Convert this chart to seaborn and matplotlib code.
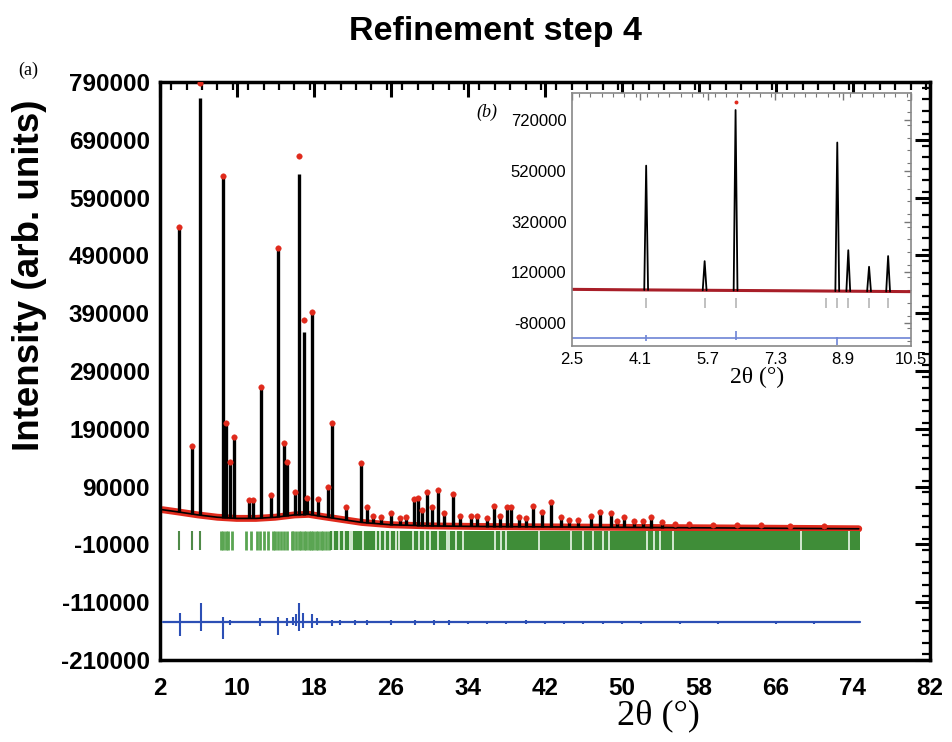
import numpy as np
import pandas as pd
import matplotlib
matplotlib.use("Agg")
import matplotlib.pyplot as plt
import seaborn as sns
from matplotlib.ticker import MultipleLocator, FixedLocator

# ---------------- data ----------------
# background of the observed pattern (main panel)
bg_x = [2.3, 4, 6, 8, 10, 12, 14, 16, 17.5, 19, 21, 23, 26, 30, 35, 45, 55, 65, 74.6]
bg_y = [50000, 46000, 41000, 37000, 35000, 35000, 37000, 41000, 42000, 38000,
        33000, 28000, 24000, 22000, 21000, 20000, 19000, 18000, 17000]

# Bragg peaks: position, calculated height, observed height
peak_pos = [4.05, 5.37, 6.19, 8.54, 8.87, 9.3, 9.74, 11.3, 11.7, 12.5, 13.6, 14.25,
            14.9, 15.2, 16.1, 16.47, 16.95, 17.3, 17.85, 18.5, 19.5, 19.9, 21.4,
            22.9, 23.5, 24.2, 25.0, 26.0, 27.0, 27.6, 28.4, 28.8, 29.2, 29.8, 30.3,
            30.9, 31.5, 32.5, 33.2, 34.3, 35.0, 36.0, 36.7, 37.3, 38.1, 38.5, 39.3,
            40.0, 40.8, 41.7, 42.6, 43.7, 44.5, 45.4, 46.8, 47.7, 48.9, 49.5, 50.2,
            51.3, 52.2, 53.0, 54.2, 55.5, 57.0, 59.5, 62.0, 64.5, 67.5, 71.0]
peak_calc = [537000, 156000, 762000, 628000, 199000, 132000, 176000, 66000, 66000,
             263000, 75000, 503000, 165000, 132000, 80000, 631000, 357000, 71000,
             392000, 69000, 89000, 196000, 54000, 130000, 54000, 40000, 38000, 45000,
             35000, 38000, 69000, 71000, 50000, 80000, 55000, 84000, 45000, 77000,
             40000, 40000, 40000, 35000, 57000, 40000, 55000, 55000, 38000, 35000,
             57000, 46000, 63000, 37000, 32000, 33000, 40000, 46000, 44000, 30000,
             37000, 30000, 31000, 37000, 28000, 26000, 25000, 24000, 23000, 23000,
             22000, 21000]
peak_obs = [540000, 160000, 788000, 628000, 200000, 132000, 176000, 66000, 66000,
            263000, 75000, 503000, 165000, 132000, 80000, 662000, 378000, 71000,
            392000, 69000, 89000, 200000, 54000, 130000, 54000, 40000, 38000, 45000,
            35000, 38000, 69000, 71000, 50000, 80000, 55000, 84000, 45000, 77000,
            40000, 40000, 40000, 35000, 57000, 40000, 55000, 55000, 38000, 35000,
            57000, 46000, 63000, 37000, 32000, 33000, 40000, 46000, 44000, 30000,
            37000, 30000, 31000, 37000, 28000, 26000, 25000, 24000, 23000, 23000,
            22000, 21000]

# reflection markers
refl_sparse = [4.0, 5.4, 6.2, 8.35, 8.6, 8.85, 9.15, 9.5, 11.0, 11.5, 12.1, 12.45,
               12.8, 13.3, 13.8, 14.0, 14.3, 14.6, 14.9, 15.2, 15.7, 15.9, 16.2,
               16.45, 16.7, 17.0, 17.2, 17.5, 17.7, 17.95, 18.2, 18.5, 18.8, 19.0,
               19.3, 19.6]
band_range = [19.7, 74.7]
band_gaps = [20.0, 20.6, 21.2, 21.8, 22.0, 23.1, 24.5, 24.9, 25.4, 25.9, 26.6, 26.9,
             28.3, 28.9, 29.6, 30.1, 30.9, 31.8, 32.1, 32.8, 33.5, 36.8, 37.5, 38.0,
             41.4, 44.7, 46.0, 47.0, 48.0, 48.7, 52.6, 53.3, 54.0, 55.3, 68.6, 73.6]
refl_levels = [-20000, 13000]

# difference curve
diff_range = [2.35, 74.7]
diff_base = -145000
diff_pos = [4.11, 6.26, 8.54, 9.3, 12.4, 14.3, 15.2, 15.9, 16.2, 16.5, 16.9, 17.85,
            18.3, 19.9, 20.7, 22.3, 23.5, 26.0, 28.5, 30.5, 32.0, 34.0, 36.0, 38.0,
            40.0, 42.0, 44.0, 46.0, 48.0, 50.0, 52.0, 56.0, 60.0, 66.0, 70.0]
diff_low = [-168000, -160000, -174000, -150000, -152000, -167000, -152000, -150000,
            -152000, -160000, -155000, -155000, -150000, -152000, -149000, -149000,
            -150000, -149000, -149000, -149000, -149000, -148000, -148000, -148000,
            -148000, -148000, -148000, -148000, -148000, -147000, -147000, -147000,
            -147000, -147000, -147000]
diff_high = [-129000, -112000, -135000, -140000, -138000, -135000, -138000, -135000,
             -130000, -112000, -128000, -130000, -138000, -140000, -141000, -141000,
             -140000, -141000, -140000, -141000, -140000, -142000, -142000, -142000,
             -141000, -142000, -142000, -142000, -142000, -143000, -143000, -143000,
             -143000, -143000, -143000]

# inset (b)
in_bg_x = [2.5, 4.0, 6.0, 8.0, 10.5]
in_bg_y = [53000, 51000, 49000, 47000, 44000]
in_peak_pos = [4.25, 5.63, 6.36, 8.76, 9.02, 9.51, 9.96]
in_peak_calc = [540000, 164000, 759000, 631000, 207000, 142000, 184000]
in_obs_top_x = [6.36]
in_obs_top_y = [789000]
in_refl = [4.25, 5.63, 6.36, 8.5, 8.76, 9.02, 9.51, 9.96]
in_refl_levels = [-20000, 18000]
in_diff_base = -138000
in_diff_pos = [4.25, 6.36, 8.76]
in_diff_low = [-152000, -145000, -166000]
in_diff_high = [-128000, -110000, -135000]

main_xticks = [2, 10, 18, 26, 34, 42, 50, 58, 66, 74, 82]
main_yticks = [-210000, -110000, -10000, 90000, 190000, 290000, 390000, 490000,
               590000, 690000, 790000]
in_xticks = [2.5, 4.1, 5.7, 7.3, 8.9, 10.5]
in_yticks = [-80000, 120000, 320000, 520000, 720000]

# ---------------- styling ----------------
sns.set_theme(style="white")
plt.rcParams["font.family"] = ["Liberation Sans", "DejaVu Sans"]
plt.rcParams["text.color"] = "black"
plt.rcParams["axes.labelcolor"] = "black"
plt.rcParams["xtick.color"] = "black"
plt.rcParams["ytick.color"] = "black"

RED = "#e02a1c"
GREEN = "#3f8d38"
BLUE = "#2c4fb5"

fig = plt.figure(figsize=(9.52, 7.42), dpi=100)
ax = fig.add_axes([159.6 / 952, 1 - 660 / 742, (930 - 159.6) / 952, (660 - 82) / 742])

# background (observed red band + calculated black)
bg_df = pd.DataFrame({"x": bg_x, "y": bg_y})
sns.lineplot(data=bg_df, x="x", y="y", ax=ax, color=RED, lw=5, zorder=2)
sns.lineplot(data=bg_df, x="x", y="y", ax=ax, color="black", lw=1.2, zorder=4)

# peaks
pp = np.array(peak_pos)
base = np.interp(pp, bg_x, bg_y)
ax.vlines(pp, base, peak_calc, color="black", lw=2.4, zorder=4)
obs_df = pd.DataFrame({"x": peak_pos, "y": peak_obs})
sns.scatterplot(data=obs_df, x="x", y="y", ax=ax, color=RED, s=16, edgecolor=RED,
                linewidth=0.3, zorder=5)

# reflection markers
ax.vlines(refl_sparse[:3], refl_levels[0], refl_levels[1], color="#4f8a48", lw=1.5, zorder=2)
ax.vlines(refl_sparse[3:], refl_levels[0], refl_levels[1], color="#5aa552", lw=2.0, zorder=2)
ax.fill_between(band_range, refl_levels[0], refl_levels[1], color=GREEN, lw=0, zorder=2)
ax.vlines(band_gaps, refl_levels[0], refl_levels[1], color="#dff0dc", lw=1.3, zorder=2)

# difference curve
diff_df = pd.DataFrame({"x": diff_range, "y": [diff_base, diff_base]})
sns.lineplot(data=diff_df, x="x", y="y", ax=ax, color=BLUE, lw=1.6, zorder=3)
ax.vlines(diff_pos, diff_low, diff_high, color=BLUE, lw=1.5, zorder=3)

ax.set_xlim(2, 82)
ax.set_ylim(-210000, 790000)
ax.xaxis.set_major_locator(FixedLocator(main_xticks))
ax.yaxis.set_major_locator(FixedLocator(main_yticks))
ax.xaxis.set_minor_locator(MultipleLocator(1.6))
ax.yaxis.set_minor_locator(MultipleLocator(20000))
ax.set_xticklabels([str(v) for v in main_xticks])
ax.set_yticklabels([str(v) for v in main_yticks])
ax.tick_params(which="both", direction="in", top=True, right=True, colors="black")
ax.tick_params(which="major", length=11, width=2.2, labelsize=17.5, pad=7)
ax.tick_params(which="minor", length=6, width=1.6)
ax.tick_params(axis="x", which="major", pad=12)
for lab in ax.get_xticklabels() + ax.get_yticklabels():
    lab.set_fontweight("bold")
for sp in ax.spines.values():
    sp.set_linewidth(2.5)
    sp.set_color("black")
ax.set_xlabel("")
ax.set_ylabel("")

# texts
fig.text(495 / 952, 1 - 40 / 742, "Refinement step 4", ha="center", va="baseline",
         fontsize=24.5, fontweight="bold", color="black")
fig.text(28 / 952, 1 - 70 / 742, "(a)", ha="center", va="center", fontsize=13,
         family=["Liberation Serif", "DejaVu Serif"], color="black")
fig.text(30 / 952, 1 - 275 / 742, "Intensity (arb. units)", rotation=90, ha="center",
         va="center", fontsize=26.5, fontweight="bold", color="black")
fig.text(658 / 952, 1 - 716 / 742, "2θ (°)", ha="center", va="center", fontsize=26,
         family=["Liberation Serif", "DejaVu Serif"], color="black")

# ---------------- inset ----------------
axi = fig.add_axes([572 / 952, 1 - 346 / 742, (911 - 572) / 952, (346 - 93) / 742])
axi.set_facecolor("white")
ibg = pd.DataFrame({"x": in_bg_x, "y": in_bg_y})
sns.lineplot(data=ibg, x="x", y="y", ax=axi, color="#a81e28", lw=2.2, zorder=2)
ip = np.array(in_peak_pos)
ibase = np.interp(ip, in_bg_x, in_bg_y)
for p, b, h in zip(ip, ibase, in_peak_calc):
    tri = pd.DataFrame({"x": [p - 0.045, p, p + 0.045], "y": [b, h, b]})
    sns.lineplot(data=tri, x="x", y="y", ax=axi, color="black", lw=1.3, sort=False,
                 zorder=3)
itop = pd.DataFrame({"x": in_obs_top_x, "y": in_obs_top_y})
sns.scatterplot(data=itop, x="x", y="y", ax=axi, color=RED, s=8, linewidth=0, zorder=4)
axi.vlines(in_refl, in_refl_levels[0], in_refl_levels[1], color="#b5b5b5", lw=1.2)
idf = pd.DataFrame({"x": [2.5, 10.5], "y": [in_diff_base, in_diff_base]})
sns.lineplot(data=idf, x="x", y="y", ax=axi, color="#6d84d6", lw=1.2)
axi.vlines(in_diff_pos, in_diff_low, in_diff_high, color="#6d84d6", lw=1.2)

axi.set_xlim(2.5, 10.5)
axi.set_ylim(-170000, 826000)
axi.xaxis.set_major_locator(FixedLocator(in_xticks))
axi.yaxis.set_major_locator(FixedLocator(in_yticks))
axi.xaxis.set_minor_locator(MultipleLocator(1.6 / 6))
axi.yaxis.set_minor_locator(MultipleLocator(50000))
axi.set_xticklabels([str(v) for v in in_xticks])
axi.set_yticklabels([str(v) for v in in_yticks])
axi.tick_params(which="both", direction="in", top=True, right=True, colors="#777777",
                labelcolor="black")
axi.tick_params(which="major", length=5, width=1, labelsize=12, pad=4)
axi.tick_params(which="minor", length=3, width=0.8)
for sp in axi.spines.values():
    sp.set_linewidth(1.2)
    sp.set_color("#888888")
axi.set_xlabel("")
axi.set_ylabel("")
fig.text(757 / 952, 1 - 377 / 742, "2θ (°)", ha="center", va="center", fontsize=17,
         family=["Liberation Serif", "DejaVu Serif"], color="black")
fig.text(487 / 952, 1 - 112 / 742, "(b)", ha="center", va="center", fontsize=13,
         style="italic", family=["Liberation Serif", "DejaVu Serif"], color="black")

fig.savefig("out.png", dpi=100)
